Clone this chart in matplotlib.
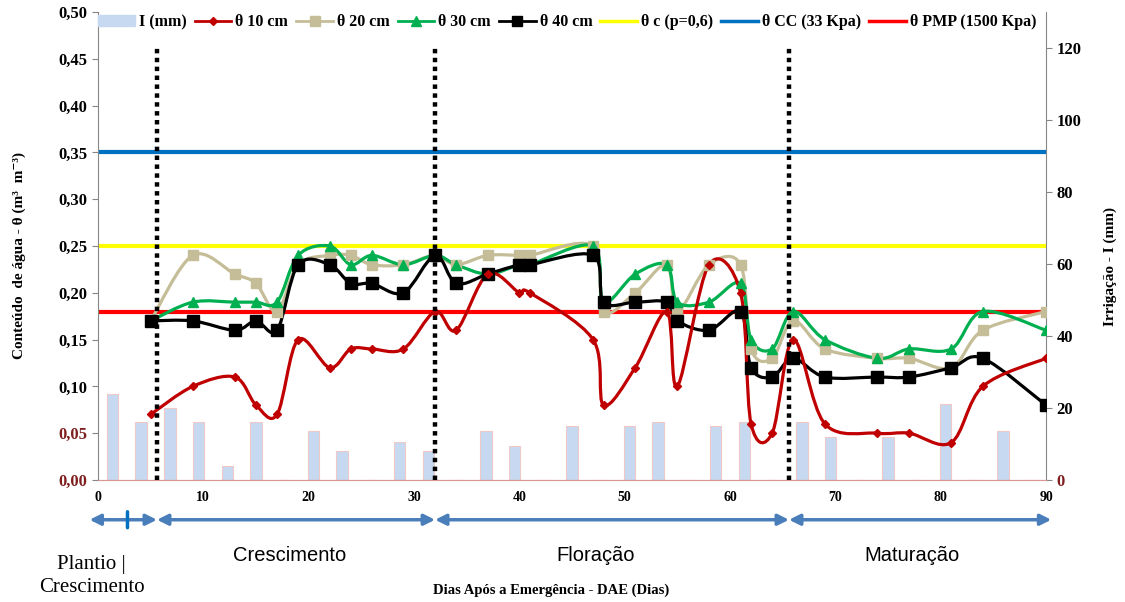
import numpy as np
import matplotlib
matplotlib.use('Agg')
import matplotlib.pyplot as plt
from matplotlib.path import Path
from matplotlib.patches import PathPatch, Patch
from matplotlib.lines import Line2D
from matplotlib.ticker import FuncFormatter

plt.rcParams['font.family'] = ['Liberation Serif', 'DejaVu Serif']

# dias das leituras de umidade
dias = [5, 9, 13, 15, 17, 19, 22, 24, 26, 29, 32, 34, 37, 40, 41, 47, 48,
        51, 54, 55, 58, 61, 62, 64, 66, 69, 74, 77, 81, 84, 90]
t10 = [0.07, 0.10, 0.11, 0.08, 0.07, 0.15, 0.12, 0.14, 0.14, 0.14, 0.18, 0.16,
       0.22, 0.20, 0.20, 0.15, 0.08, 0.12, 0.18, 0.10, 0.23, 0.20, 0.06, 0.05,
       0.15, 0.06, 0.05, 0.05, 0.04, 0.10, 0.13]
t20 = [0.17, 0.24, 0.22, 0.21, 0.18, 0.23, 0.24, 0.24, 0.23, 0.23, 0.24, 0.23,
       0.24, 0.24, 0.24, 0.25, 0.18, 0.20, 0.23, 0.18, 0.23, 0.23, 0.14, 0.13,
       0.17, 0.14, 0.13, 0.13, 0.12, 0.16, 0.18]
t30 = [0.17, 0.19, 0.19, 0.19, 0.19, 0.24, 0.25, 0.23, 0.24, 0.23, 0.24, 0.23,
       0.22, 0.23, 0.23, 0.25, 0.19, 0.22, 0.23, 0.19, 0.19, 0.21, 0.15, 0.14,
       0.18, 0.15, 0.13, 0.14, 0.14, 0.18, 0.16]
t40 = [0.17, 0.17, 0.16, 0.17, 0.16, 0.23, 0.23, 0.21, 0.21, 0.20, 0.24, 0.21,
       0.22, 0.23, 0.23, 0.24, 0.19, 0.19, 0.19, 0.17, 0.16, 0.18, 0.12, 0.11,
       0.13, 0.11, 0.11, 0.11, 0.12, 0.13, 0.08]

# irrigacao (mm) em 33 categorias
irrig = [24, 16, 20, 16, 4, 16, 0, 13.5, 8, 0, 10.5, 8, 0, 13.5, 9.5, 0, 15,
         0, 15, 16, 0, 15, 16, 0, 16, 12, 0, 12, 0, 21, 0, 13.5, 0]

theta_cc = 0.35
theta_c = 0.25
theta_pmp = 0.18

fases = [-0.8, 5.6, 32, 65.6, 90.5]


def suave(x, y):
    p = np.column_stack([x, y]).astype(float)
    verts = [p[0]]
    codes = [Path.MOVETO]
    n = len(p)
    for i in range(n - 1):
        p0 = p[i - 1] if i > 0 else p[i]
        p3 = p[i + 2] if i + 2 < n else p[i + 1]
        verts += [p[i] + (p[i + 1] - p0) / 6, p[i + 1] - (p3 - p[i]) / 6, p[i + 1]]
        codes += [Path.CURVE4] * 3
    return Path(verts, codes)


fig = plt.figure(figsize=(11.25, 6.02), dpi=100)
rect = [0.0871, 0.2027, 0.8427, 0.7773]

# barras
axb = fig.add_axes(rect)
axb.bar(np.arange(len(irrig)) + 0.5, irrig, width=0.4, color='#c6d9f1',
        edgecolor='#f0c8c8', linewidth=0.8, zorder=2)
axb.set_xlim(0, len(irrig))
axb.set_ylim(0, 130)
axb.set_xticks([])
axb.yaxis.tick_right()
axb.yaxis.set_label_position('right')
axb.set_yticks(range(0, 121, 20))
axb.tick_params(axis='y', labelsize=12, length=4, color='#868686')
for t in axb.get_yticklabels():
    t.set_fontweight('bold')
axb.get_yticklabels()[0].set_color('#7f1f1f')
axb.set_ylabel('Irrigação - I (mm)', fontsize=11, fontweight='bold')
axb.yaxis.set_label_coords(1.061, 0.457)
for s in ['top', 'left']:
    axb.spines[s].set_visible(False)
axb.spines['right'].set_color('#868686')
axb.spines['bottom'].set_color('#d99694')

# umidade
ax = fig.add_axes(rect)
ax.patch.set_visible(False)
ax.set_xlim(0, 90)
ax.set_ylim(0, 0.5)
ax.set_yticks(np.arange(0, 0.501, 0.05))
ax.yaxis.set_major_formatter(FuncFormatter(lambda v, p: f'{v:.2f}'.replace('.', ',')))
ax.set_xticks(range(0, 91, 10))
ax.tick_params(axis='x', length=0, labelsize=10, pad=8)
ax.tick_params(axis='y', length=4, labelsize=12, color='#868686')
for t in ax.get_xticklabels() + ax.get_yticklabels():
    t.set_fontweight('bold')
ax.get_yticklabels()[0].set_color('#7f1f1f')
ax.get_yticklabels()[1].set_color('#7f1f1f')
for s in ['top', 'right']:
    ax.spines[s].set_visible(False)
ax.spines['left'].set_color('#868686')
ax.spines['bottom'].set_color('#d99694')
ax.set_ylabel('Conteúdo  de água - θ (m³  m⁻³)', fontsize=11, fontweight='bold')
ax.yaxis.set_label_coords(-0.076, 0.48)

ax.axhline(theta_c, color='#ffff00', lw=3, zorder=2)
ax.axhline(theta_cc, color='#0070c0', lw=3, zorder=2)
ax.axhline(theta_pmp, color='#ff0000', lw=3, zorder=2)

series = [
    (t20, '#c4bd97', 's', 7, 'θ 20 cm'),
    (t30, '#00b050', '^', 7, 'θ 30 cm'),
    (t40, '#000000', 's', 8.5, 'θ 40 cm'),
    (t10, '#c00000', 'D', 4.5, 'θ 10 cm'),
]
for vals, cor, mk, ms, nome in series:
    ax.add_patch(PathPatch(suave(dias, vals), facecolor='none', edgecolor=cor,
                           lw=2.3, zorder=3, capstyle='round', joinstyle='round'))
    ax.plot(dias, vals, linestyle='none', marker=mk, ms=ms, color=cor, zorder=4)

ax.vlines(fases[1:4], 0, 0.465, colors='black', lw=3.2, linestyles=(0, (1, 1)), zorder=5)

handles = [
    Patch(facecolor='#c6d9f1', edgecolor='#c6d9f1', label='I (mm)'),
    Line2D([], [], color='#c00000', marker='D', ms=4.5, lw=2, label='θ 10 cm'),
    Line2D([], [], color='#c4bd97', marker='s', ms=7, lw=2, label='θ 20 cm'),
    Line2D([], [], color='#00b050', marker='^', ms=7, lw=2, label='θ 30 cm'),
    Line2D([], [], color='#000000', marker='s', ms=7, lw=2, label='θ 40 cm'),
    Line2D([], [], color='#ffff00', lw=2.5, label='θ c (p=0,6)'),
    Line2D([], [], color='#0070c0', lw=2.5, label='θ CC (33 Kpa)'),
    Line2D([], [], color='#ff0000', lw=2.5, label='θ PMP (1500 Kpa)'),
]
ax.legend(handles=handles, loc='center', bbox_to_anchor=(0.495, 0.978), ncol=8,
          frameon=False, prop={'weight': 'bold', 'size': 11.5}, handlelength=2.3,
          handletextpad=0.25, columnspacing=0.5, borderaxespad=0)

# fases
for a, b in zip(fases[:-1], fases[1:]):
    ax.annotate('', xy=(b, -0.085), xytext=(a, -0.085),
                xycoords=('data', 'axes fraction'), textcoords=('data', 'axes fraction'),
                annotation_clip=False,
                arrowprops=dict(arrowstyle='<|-|>', color='#4a7ebb', lw=2.5,
                                mutation_scale=16, shrinkA=0, shrinkB=0))
ax.annotate('', xy=(2.8, -0.068), xytext=(2.8, -0.102),
            xycoords=('data', 'axes fraction'), textcoords=('data', 'axes fraction'),
            annotation_clip=False,
            arrowprops=dict(arrowstyle='-', color='#0070c0', lw=2.5, shrinkA=0, shrinkB=0))

ax.text(-0.6, -0.205, 'Plantio |\nCrescimento', transform=ax.get_xaxis_transform(),
        ha='center', va='center', fontsize=15, fontweight='normal', linespacing=1.3)
for xc, nome in [(18.2, 'Crescimento'), (47.2, 'Floração'), (77.3, 'Maturação')]:
    ax.text(xc, -0.162, nome, transform=ax.get_xaxis_transform(), ha='center',
            va='center', fontsize=14.5, family=['Liberation Sans', 'DejaVu Sans'])
ax.text(43, -0.235, 'Dias Após a Emergência - DAE (Dias)', transform=ax.get_xaxis_transform(),
        ha='center', va='center', fontsize=10.5, fontweight='bold')

fig.savefig('out.png', dpi=100)
